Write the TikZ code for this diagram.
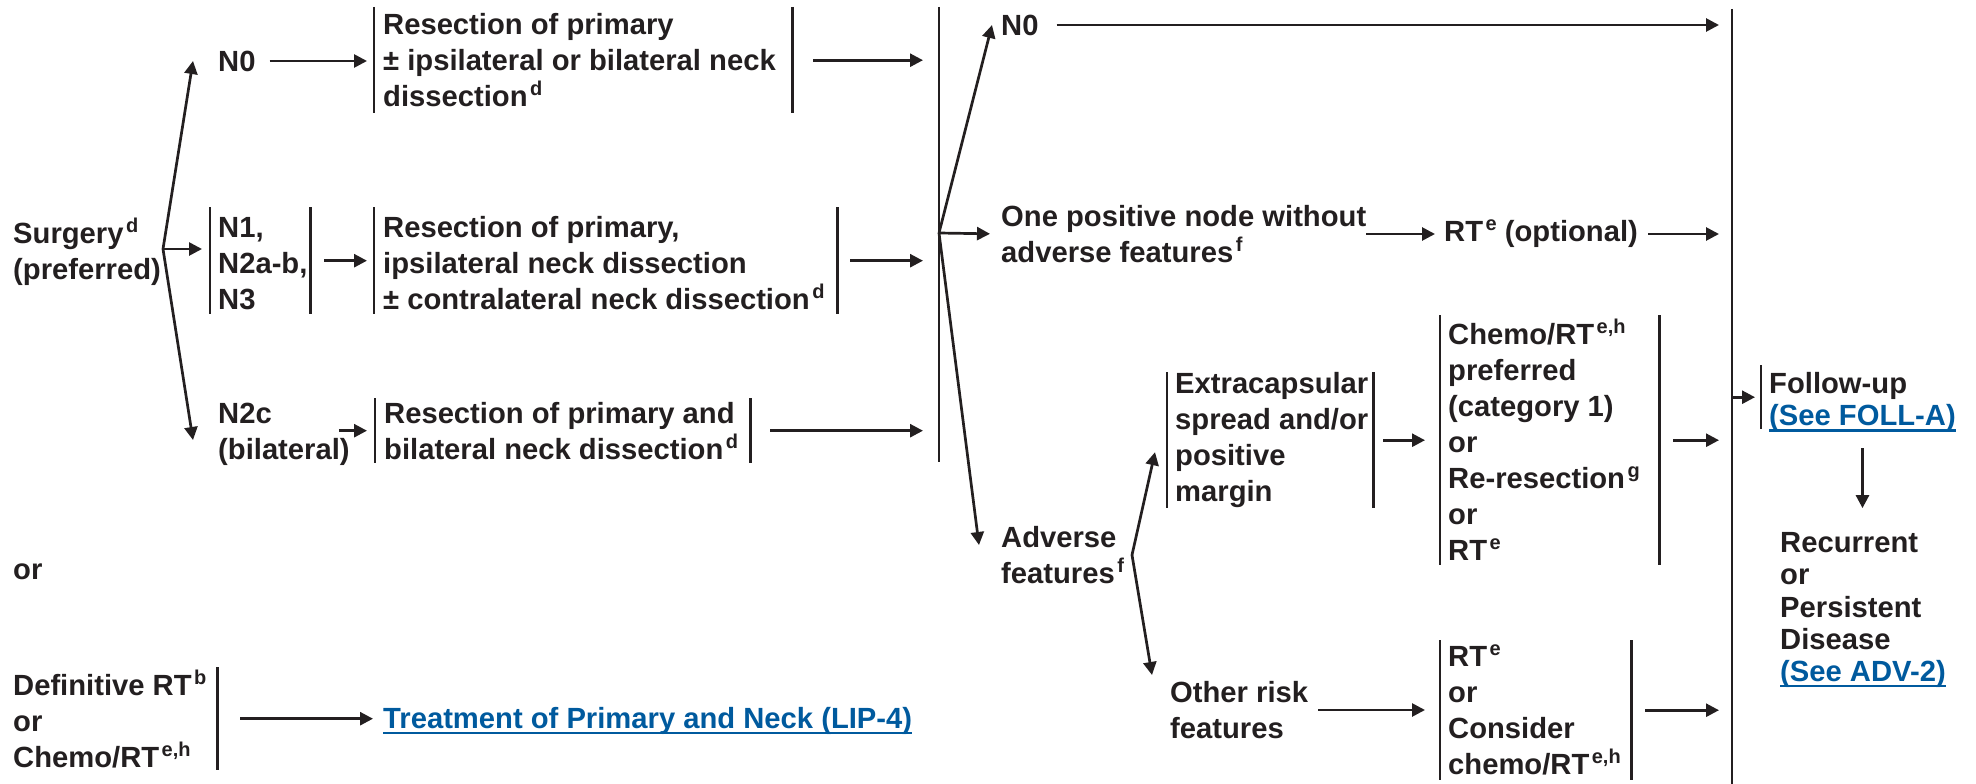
\documentclass[tikz,border=0pt]{standalone}
\usepackage{fontspec}
\setmainfont{Liberation Sans}
\usetikzlibrary{arrows.meta}
\definecolor{ink}{RGB}{35,31,32}
\definecolor{link}{RGB}{0,90,158}
\exhyphenpenalty=10000
% footnote marks set as small raised letters
\newcommand\ftn[1]{\hspace{2.5pt}\raisebox{11pt}{\fontsize{20}{20}\selectfont #1}}
% underlined cross-reference
\newsavebox\lnkbox
\newcommand\lnk[1]{{\color{link}\sbox\lnkbox{#1}\rlap{\rule[-5.6pt]{\wd\lnkbox}{2.2pt}}\usebox\lnkbox}}
% left and right rules of a bracketed box
\newcommand\twobars[1]{\draw[bar] (#1.north west) -- (#1.south west) (#1.north east) -- (#1.south east);}
\begin{document}
\begin{tikzpicture}[x=1pt,y=-1pt,
  txt/.style={inner sep=0pt, align=left, anchor=west, text=ink,
    font={\bfseries\fontsize{29.2}{36}\selectfont}},
  tight/.style={font={\bfseries\fontsize{29.2}{32.3}\selectfont}},
  frame/.style={inner sep=0pt, anchor=north west},
  bar/.style={draw=ink, line width=2.9pt},
  arr/.style={draw=ink, line width=2.7pt, -{Triangle[length=13pt,width=13pt]}},
]
\useasboundingbox (0,0) rectangle (1976,784);

% ---- initial treatment
\node[txt] (surg) at (13,252) {Surgery\ftn{d}\\(preferred)};
\coordinate (f1) at (163,249);
\node[txt] (n0a) at (218,61) {N0};
\node[frame, minimum width=100pt, minimum height=107pt] (nbx) at (210,207) {};
\node[txt] (nbt) at ([xshift=8pt,yshift=-3pt]nbx.west) {N1,\\N2a-b,\\N3};
\node[txt] (n2c) at (218,434) {N2c\\(bilateral)};

\node[frame, minimum width=418pt, minimum height=106pt] (b1) at (374,7) {};
\node[txt] (b1t) at ([xshift=9pt]b1.west) {Resection of primary\\± ipsilateral or bilateral neck\\dissection\ftn{d}};
\node[frame, minimum width=463pt, minimum height=107pt] (b2) at (374,207) {};
\node[txt] (b2t) at ([xshift=9pt,yshift=-2pt]b2.west) {Resection of primary,\\ipsilateral neck dissection\\± contralateral neck dissection\ftn{d}};
\node[frame, minimum width=375pt, minimum height=65pt] (b3) at (375,398) {};
\node[txt] (b3t) at ([xshift=9pt]b3.west) {Resection of primary and\\bilateral neck dissection\ftn{d}};

\coordinate (mt) at (939,7);
\coordinate (mb) at (939,462);
\coordinate (f2) at (939,233);

\node[txt] (orn) at (13,572) {or};
\node[frame, minimum width=213pt, minimum height=103pt] (dfb) at (4,667) {};
\node[txt] (dft) at ([xshift=9pt]dfb.west) {Definitive RT\ftn{b}\\or\\Chemo/RT\ftn{e,h}};
\node[txt] (trt) at (383,721) {\lnk{Treatment of Primary and Neck (LIP-4)}};

% ---- pathology after surgery
\node[txt] (n0b) at (1001,25) {N0};
\node[txt] (one) at (1001,234) {One positive node without\\adverse features\ftn{f}};
\node[txt] (rto) at (1444,234) {RT\ftn{e} (optional)};
\node[txt] (adv) at (1001,555) {Adverse\\features\ftn{f}};
\coordinate (f3) at (1132,555);
\node[frame, minimum width=206pt, minimum height=136pt] (ecs) at (1167,372) {};
\node[txt] (ecst) at ([xshift=8pt]ecs.west) {Extracapsular\\spread and/or\\positive\\margin};
\node[txt] (oth) at (1170,710) {Other risk\\features};
\node[frame, minimum width=219pt, minimum height=250pt] (chm) at (1440,315) {};
\node[txt] (chmt) at ([xshift=8pt]chm.west) {Chemo/RT\ftn{e,h}\\preferred\\(category 1)\\or\\Re-resection\ftn{g}\\or\\RT\ftn{e}};
\node[frame, minimum width=191pt, minimum height=140pt] (rtb) at (1440,640) {};
\node[txt] (rtbt) at ([xshift=8pt]rtb.west) {RT\ftn{e}\\or\\Consider\\chemo/RT\ftn{e,h}};

% ---- follow-up
\coordinate (rt) at (1732,9);
\coordinate (rb) at (1732,784);
\node[frame, minimum width=199pt, minimum height=64pt] (fb) at (1761,365) {};
\node[txt,tight] (ft) at ([xshift=8pt,yshift=-5pt]fb.west) {Follow-up\\\lnk{(See FOLL-A)}};
\node[txt,tight] (rec) at (1780,610) {Recurrent\\or\\Persistent\\Disease\\\lnk{(See ADV-2)}};

% ---- bracket rules
\twobars{nbx}
\twobars{b1}
\twobars{b2}
\twobars{b3}
\twobars{ecs}
\twobars{chm}
\twobars{rtb}
\draw[bar] (fb.north west) -- (fb.south west);
\draw[bar] (dfb.north east) -- (dfb.south east);
\draw[bar] (mt) -- (mb);
\draw[bar] (rt) -- (rb);

% ---- connectors
\draw[arr] (f1) -- ([xshift=-25pt]n0a.west);
\draw[arr, shorten >=8pt] (f1) -- (f1 -| nbx.west);
\draw[arr] (f1) -- ([xshift=-25pt,yshift=-6pt]n2c.west);
\draw[arr, shorten <=14pt, shorten >=7pt] (n0a.east) -- (n0a.east -| b1.west);
\draw[arr, shorten <=14pt, shorten >=7pt] (nbx.east) -- (nbx.east -| b2.west);
\draw[arr, shorten <=-11pt, shorten >=8pt] (b3.west -| n2c.east) -- (b3.west);
\draw[arr, shorten <=21pt, shorten >=16pt] (b1.east) -- (b1.east -| mt);
\draw[arr, shorten <=13pt, shorten >=16pt] (b2.east) -- (b2.east -| mt);
\draw[arr, shorten <=20pt, shorten >=16pt] (b3.east) -- (b3.east -| mt);

\draw[arr] (f2) -- ([xshift=-9pt]n0b.west);
\draw[arr, shorten >=11pt] (f2) -- (one.west);
\draw[arr] (f2) -- ([xshift=-22pt,yshift=10pt]adv.west);
\draw[arr, shorten <=18pt, shorten >=13pt] (n0b.east) -- (n0b.east -| rt);
\draw[arr, shorten >=9pt] (one.east |- rto.west) -- (rto.west);
\draw[arr, shorten <=10pt, shorten >=13pt] (rto.east) -- (rto.east -| rt);

\draw[arr] (f3) -- ([xshift=-12pt,yshift=-12pt]ecs.west);
\draw[arr] (f3) -- ([xshift=-18pt,yshift=35pt]oth.west);
\draw[arr, shorten <=10pt, shorten >=15pt] (ecs.east) -- (ecs.east -| chm.west);
\draw[arr, shorten <=10pt, shorten >=15pt] (oth.east) -- (oth.east -| rtb.west);
\draw[arr, shorten <=14pt, shorten >=13pt] (chm.east) -- (chm.east -| rt);
\draw[arr, shorten <=14pt, shorten >=13pt] (rtb.east) -- (rtb.east -| rt);

\draw[arr, shorten >=6pt] (fb.west -| rt) -- (fb.west);
\draw[arr, shorten <=16pt, shorten >=24pt] (ft.south) -- (ft.south |- rec.north);
\draw[arr, shorten <=23pt, shorten >=10pt] (dfb.east) -- (dfb.east -| trt.west);
\end{tikzpicture}
\end{document}
